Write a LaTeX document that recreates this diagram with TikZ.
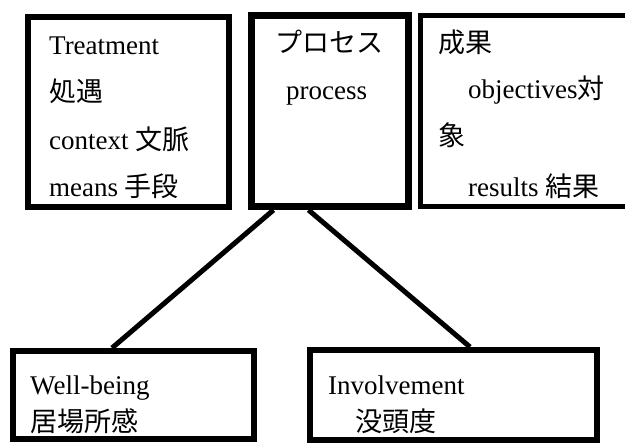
\documentclass[tikz,border=0pt]{standalone}
\usepackage{fontspec}
\setmainfont{Liberation Serif}
\newfontfamily\jp{Noto Sans CJK JP}
\usetikzlibrary{calc}
\tikzset{
  boxA/.style={draw, line width=6pt, rectangle, inner sep=0pt},
  boxB/.style={draw, line width=7pt, rectangle, inner sep=0pt},
  boxC/.style={draw, line width=5pt, rectangle, inner sep=0pt},
  txt/.style={anchor=base west, inner sep=0pt, font=\fontsize{27}{32}\selectfont},
  link/.style={line width=5pt}
}
\begin{document}
\begin{tikzpicture}[x=1pt,y=-1pt]
\useasboundingbox (0,0) rectangle (625,446);
\clip (0,0) rectangle (625,446);
% boxes
\node[boxA, minimum width=201pt, minimum height=190pt] (treat) at (128.5,112) {};
\node[boxB, minimum width=157pt, minimum height=191pt] (proc) at (330,111) {};
\node[boxC, minimum width=219.5pt, minimum height=191pt] (res) at (530.25,111) {};
\node[boxA, minimum width=241pt, minimum height=88pt] (wb) at (133.5,395) {};
\node[boxA, minimum width=287pt, minimum height=90pt] (inv) at (453.5,395) {};
% texts
\node[txt] (t1) at (49,55) {Treatment};
\node[txt] (t2) at (49,102) {\jp 処遇};
\node[txt] (t3) at (49,150) {context {\jp 文脈}};
\node[txt] (t4) at (49,197) {means {\jp 手段}};
\node[txt] (p1) at (275,53) {\jp プロセス};
\node[txt] (p2) at (286,100) {process};
\node[txt] (r1) at (438,53) {\jp 成果};
\node[txt] (r2) at (468,99) {objectives{\jp 対}};
\node[txt] (r3) at (438,146) {\jp 象};
\node[txt] (r4) at (468,197) {results {\jp 結果}};
\node[txt] (w1) at (30,395) {Well-being};
\node[txt] (w2) at (30,432) {\jp 居場所感};
\node[txt] (i1) at (328,395) {Involvement};
\node[txt] (i2) at (355,432) {\jp 没頭度};
% connectors
\coordinate (pl) at ($(proc.south west)+(25.5,0)$);
\coordinate (pr) at ($(proc.south west)+(60.5,0)$);
\coordinate (wt) at ($(wb.north west)+(102,0)$);
\coordinate (it) at ($(inv.north west)+(163,0)$);
\draw[link] (pl) -- (wt);
\draw[link] (pr) -- (it);
\end{tikzpicture}
\end{document}
